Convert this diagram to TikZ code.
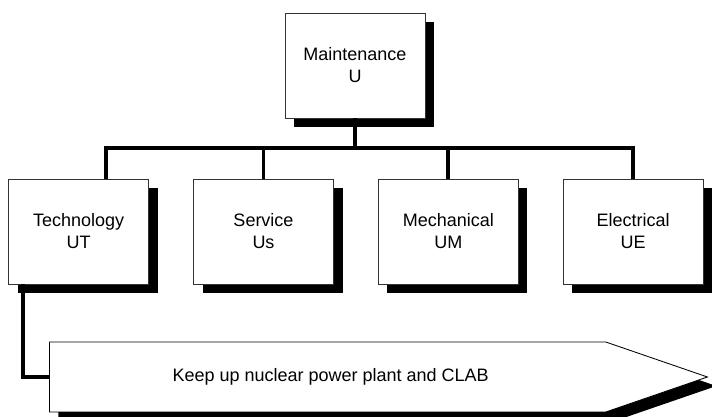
\documentclass[tikz,border=0pt]{standalone}
\usepackage{fontspec}
\setmainfont{Liberation Sans}
\usetikzlibrary{positioning,shapes.symbols,shadows,calc}

\begin{document}
\begin{tikzpicture}[
    font=\fontsize{12.8}{15.6}\selectfont,
    unitbox/.style={
        draw=black!80, line width=0.6pt, fill=white,
        minimum width=3.5cm, minimum height=2.625cm,
        align=center, inner sep=2pt,
        drop shadow={shadow xshift=0.225cm, shadow yshift=-0.225cm,
            fill=black, opacity=1},
    },
    goalarrow/.style={
        signal, signal to=east, signal pointer angle=38,
        draw=black, line width=0.6pt, fill=white,
        minimum width=16.45cm, minimum height=1.75cm, inner sep=2pt,
        drop shadow={shadow xshift=0.225cm, shadow yshift=-0.225cm,
            fill=black, opacity=1},
    },
    link/.style={line width=2.8pt, black},
]
\useasboundingbox (0,0) rectangle (17.8,-10.425);

% ============================================================
% TOP: Maintenance
% ============================================================
\node[unitbox] (main) at (8.875,-1.6375) {Maintenance\\U};

% ============================================================
% UNITS (one row)
% ============================================================
\node[unitbox] (service) at (6.5875,-5.7875) {Service\\Us};
\node[unitbox, left=1.1cm of service] (tech) {Technology\\UT};
\node[unitbox, right=1.1cm of service] (mech) {Mechanical\\UM};
\node[unitbox, right=1.1cm of mech] (elec) {Electrical\\UE};

% ============================================================
% GOAL arrow
% ============================================================
\node[goalarrow, anchor=west] (goal) at (1.225,-9.425)
    {\hspace*{0.15cm}Keep up nuclear power plant and CLAB};

% Tree lines
\coordinate (bus) at ([yshift=-0.75cm]main.south);
\draw[link] (main.south) -- (bus);
\draw[link] ([xshift=0.6875cm]tech.north) |- (bus) -| (elec.north);
\draw[link] (service.north) -- (service.north |- bus);
\draw[link] (mech.north) -- (mech.north |- bus);

% Technology -> goal
\draw[link] ([xshift=0.375cm]tech.south west) |- (goal.west);

\end{tikzpicture}
\end{document}
